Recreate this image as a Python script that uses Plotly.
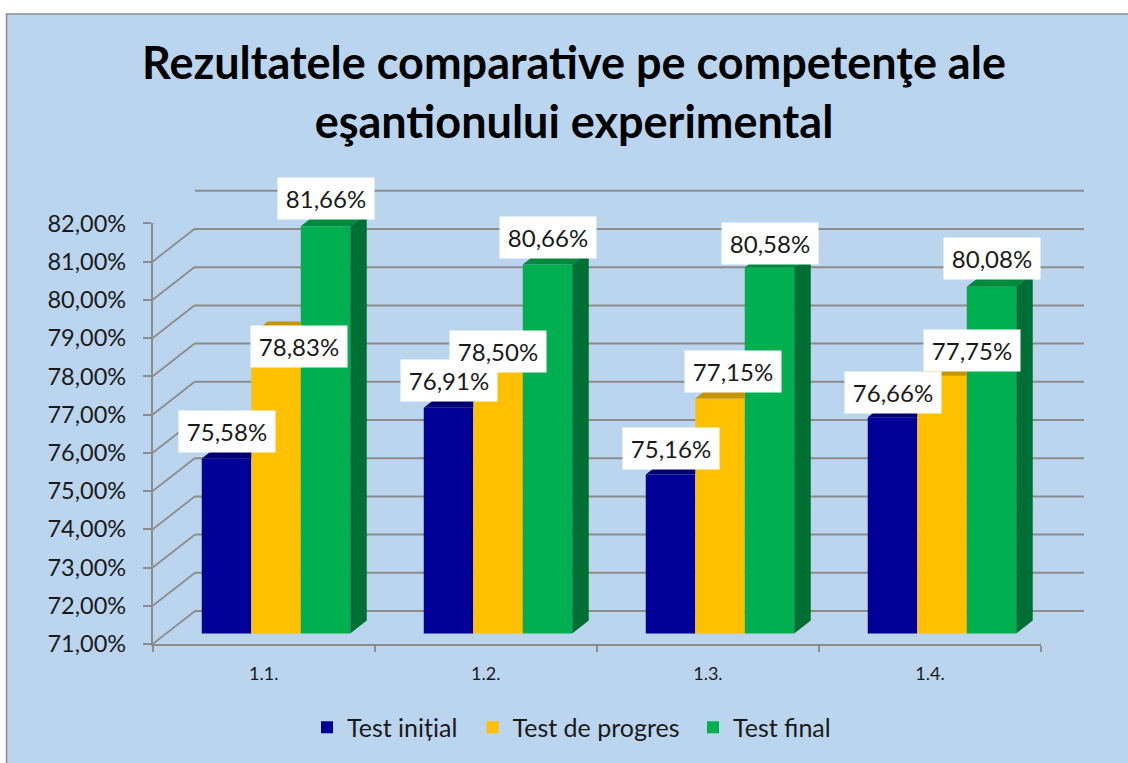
import plotly.graph_objects as go

categories = ["1.1.", "1.2.", "1.3.", "1.4."]
test_initial = [75.58, 76.91, 75.16, 76.66]
test_progress = [78.83, 78.50, 77.15, 77.75]
test_final = [81.66, 80.66, 80.58, 80.08]
series_names = ["Test inițial", "Test de progres", "Test final"]
y_ticks = list(range(71, 83))
y_tick_labels = [f"{t},00%" for t in y_ticks]

W, H = 1128, 763
FONT = "Lato"
TEXT = "#1a1a1a"
GRID = "#8C8C8C"
FRONT = ["#000099", "#FFC000", "#00B050"]
TOP = ["#000075", "#C69600", "#008A3E"]
SIDE = "#006F33"

# pixels per unit of the plotted planes
Y_UNIT = 38.2
X_UNIT = 222.0
DEPTH_X = 16.5 / X_UNIT
DEPTH_Y = 13.0 / Y_UNIT
BAR_W = 148.5 / 3 / X_UNIT

# manual label offsets (pixels) as placed in the source chart
label_dx = [[0, 0, 0, 0], [23, 0, 12.5, 29.5], [0.5, 0, 0, 0]]
label_dy = [[27.5, 27, 26.5, 25], [-12, -4, 26.6, 25], [27.5, 26.5, 24.5, 28]]
legend_left = [307, 472.5, 693]
legend_ids = ["legend", "legend2", "legend3"]


def xp(px):
    return px / W


def yp(px):
    return 1 - px / H


series = [test_initial, test_progress, test_final]
fig = go.Figure()
positions = list(range(len(categories)))
nx = len(categories)

# back wall horizontal lines (first subplot, under the bars)
xs, ys = [], []
for t in y_ticks:
    xs += [0, nx, None]
    ys += [t, t, None]
fig.add_trace(go.Scatter(x=xs, y=ys, mode="lines", line=dict(color=GRID, width=2), xaxis="x", yaxis="y",
                         showlegend=False, hoverinfo="skip", cliponaxis=False))

for s, values in enumerate(series):
    fig.add_trace(go.Bar(x=positions, y=values, name=series_names[s], marker=dict(color=FRONT[s], line=dict(width=0)),
                         xaxis="x2", yaxis="y2", legend=legend_ids[s]))

for s, values in enumerate(series):
    xs, ys = [], []
    for i, v in enumerate(values):
        x0 = positions[i] + (s - 1.5) * BAR_W
        x1 = x0 + BAR_W
        if s < 2 and series[s + 1][i] > v:
            xs += [x0, x1, x1, x0 + DEPTH_X, x0, None]
        else:
            xs += [x0, x1, x1 + DEPTH_X, x0 + DEPTH_X, x0, None]
        ys += [v, v, v + DEPTH_Y, v + DEPTH_Y, v, None]
    fig.add_trace(go.Scatter(x=xs, y=ys, mode="lines", fill="toself", fillcolor=TOP[s], line=dict(width=0),
                             xaxis="x2", yaxis="y2", showlegend=False, hoverinfo="skip", cliponaxis=False))

xs, ys = [], []
for i, v in enumerate(test_final):
    x1 = positions[i] + 1.5 * BAR_W
    xs += [x1, x1 + DEPTH_X, x1 + DEPTH_X, x1, x1, None]
    ys += [y_ticks[0], y_ticks[0] + DEPTH_Y, v + DEPTH_Y, v, y_ticks[0], None]
fig.add_trace(go.Scatter(x=xs, y=ys, mode="lines", fill="toself", fillcolor=SIDE, line=dict(width=0),
                         xaxis="x2", yaxis="y2", showlegend=False, hoverinfo="skip", cliponaxis=False))

# receding lines from the front axis to the back wall
dxw, dyw = 42.3 / X_UNIT, 33.0 / Y_UNIT
xs, ys = [], []
for t in y_ticks:
    xs += [0, dxw, None]
    ys += [t, t + dyw, None]
xs += [nx, nx + dxw, None]
ys += [y_ticks[0], y_ticks[0] + dyw, None]
fig.add_trace(go.Scatter(x=xs, y=ys, mode="lines", line=dict(color=GRID, width=1.8), xaxis="x3", yaxis="y3",
                         showlegend=False, hoverinfo="skip", cliponaxis=False))

for s, values in enumerate(series):
    for i, v in enumerate(values):
        fig.add_annotation(x=positions[i] + (s - 1) * BAR_W, y=v, xref="x2", yref="y2",
                           text=f"{v:.2f}".replace(".", ",") + "%", showarrow=False, bgcolor="white",
                           font=dict(family=FONT, size=24, color=TEXT), width=96, height=41, borderpad=0,
                           xanchor="center", yanchor="middle", xshift=label_dx[s][i], yshift=label_dy[s][i])

fig.add_shape(type="rect", xref="paper", yref="paper", x0=xp(6.5), x1=1.02, y0=-0.02, y1=yp(14),
              fillcolor="#BBD5EE", line=dict(color="#8C8C8C", width=1.5), layer="below")


def legend_at(px):
    return dict(orientation="h", x=xp(px), xanchor="left", y=yp(727.5),
                yanchor="middle", font=dict(family=FONT, size=25, color=TEXT), bgcolor="rgba(0,0,0,0)")


fig.update_layout(
    width=W, height=H, margin=dict(l=0, r=0, t=0, b=0, pad=0, autoexpand=False),
    paper_bgcolor="white", plot_bgcolor="rgba(0,0,0,0)",
    barmode="group", bargap=1 - 148.5 / X_UNIT, bargroupgap=0,
    title=dict(text="<b>Rezultatele comparative pe competenţe ale<br>eşantionului experimental</b>",
               x=xp(574), xanchor="center", y=yp(79), yanchor="middle",
               font=dict(family=FONT, size=45, color="black")),
    showlegend=True,
    legend=legend_at(legend_left[0]), legend2=legend_at(legend_left[1]), legend3=legend_at(legend_left[2]),
    # back wall: range padded half a unit so the first and last lines are not clipped
    xaxis=dict(domain=[xp(195), xp(1084)], range=[0, nx], visible=False, anchor="y"),
    yaxis=dict(domain=[yp(611 + 19.1), yp(190.8 - 19.1)], range=[70.5, 82.5], visible=False, anchor="x"),
    # bars plane
    xaxis2=dict(domain=[xp(165), xp(1053)], range=[-0.5, nx - 0.5], visible=False, anchor="y2"),
    yaxis2=dict(domain=[yp(633.5), yp(213.3)], range=[71, 82], visible=False, anchor="x2"),
    # front axes
    xaxis3=dict(domain=[xp(152.7), xp(1041)], range=[0, nx], anchor="y3", showgrid=False, zeroline=False,
                tickvals=[i + 0.5 for i in positions], ticktext=categories, ticks="",
                ticklabelstandoff=12,
                tickfont=dict(family=FONT, size=18, color=TEXT), showline=True, linecolor=GRID, linewidth=2,
                minor=dict(tickvals=list(range(nx + 1)), ticks="outside", ticklen=6, tickcolor=GRID, tickwidth=1.5,
                           showgrid=False)),
    yaxis3=dict(domain=[yp(644), yp(223.3)], range=[71, 82], anchor="x3", showgrid=False, zeroline=False,
                tickvals=y_ticks, ticktext=y_tick_labels, ticks="outside", ticklen=8, tickcolor=GRID,
                tickwidth=1.5, ticklabelstandoff=12, showline=True, linecolor=GRID, linewidth=1.6,
                tickfont=dict(family=FONT, size=23.5, color=TEXT)),
)

fig.write_html("out.html", config={"displayModeBar": False}, post_script="document.body.style.margin='0';")
